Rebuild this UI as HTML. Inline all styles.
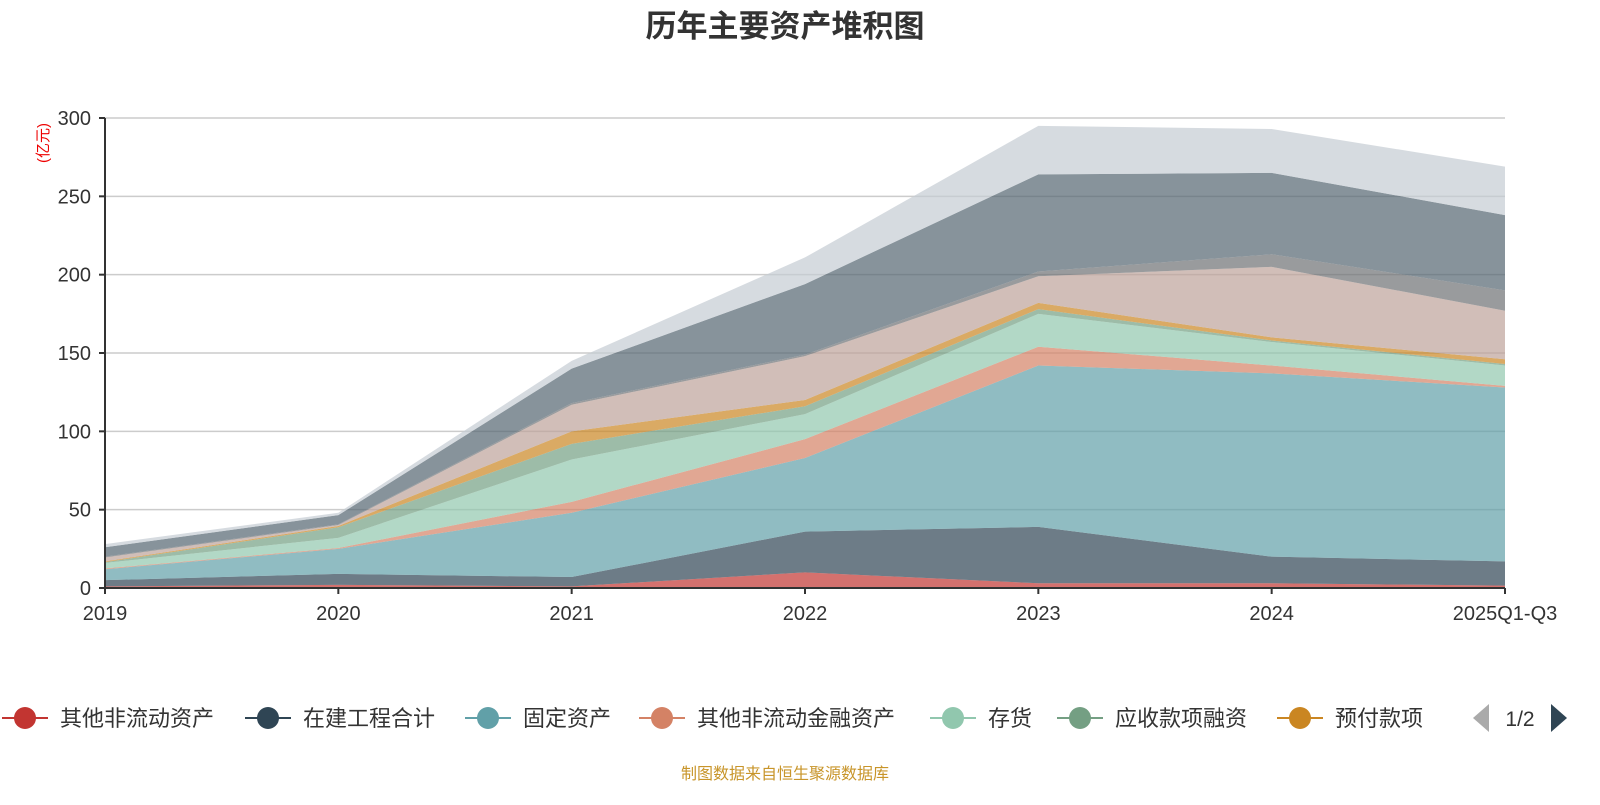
<!DOCTYPE html>
<html><head><meta charset="utf-8"><style>
body{margin:0;background:#fff;}
svg text{font-family:"Liberation Sans","Noto Sans CJK SC",sans-serif;}
</style></head><body>
<svg id="c" width="1600" height="800" xmlns="http://www.w3.org/2000/svg">
<text x="785" y="37" text-anchor="middle" font-size="31" font-weight="bold" fill="#333">历年主要资产堆积图</text>
<text transform="translate(48,143) rotate(-90)" text-anchor="middle" font-size="15" fill="#e00">(亿元)</text>
<g id="grid"></g><g id="areas"></g><g id="axes"></g><g id="legend"></g>
<text x="785" y="779" text-anchor="middle" font-size="16" fill="#c8952a">制图数据来自恒生聚源数据库</text>
</svg>
<script>
const categories=["2019","2020","2021","2022","2023","2024","2025Q1-Q3"];
const yTicks=[0,50,100,150,200,250,300];
const seriesNames=["其他非流动资产","在建工程合计","固定资产","其他非流动金融资产","存货","应收款项融资","预付款项","应收账款","交易性金融资产","货币资金","无形资产"];
const seriesColors=["#c23531","#2f4554","#61a0a8","#d48265","#91c7ae","#749f83","#ca8622","#bda29a","#6e7074","#546570","#c4ccd3"];
const sRed=[1,2,1,10,3,3,1.5];
const sDark=[4,7,6,26,36,17,15.5];
const sTeal=[7,16,41,47,103,117,111];
const sSalmon=[0.5,0.5,7,12,12,5,1];
const sLightGreen=[3.5,6.5,27,16,21,15,13];
const sGreen=[0.5,6.8,10,5,3,1,1];
const sOrange=[0.5,0.8,8,4,4,2,3];
const sPink=[2.5,0.6,17,28,17,45,31];
const sGray=[0.5,0.4,1,1,3,8,13];
const sDarkGray=[6,5.9,22,45,62,52,48];
const sLightGray=[2,1.5,5,17,31,28,31];
const allSeries=[sRed,sDark,sTeal,sSalmon,sLightGreen,sGreen,sOrange,sPink,sGray,sDarkGray,sLightGray];

const NS="http://www.w3.org/2000/svg";
const X0=105,X1=1505,Y0=588,Y1=118,YMAX=300;
const xs=i=>X0+i*(X1-X0)/(categories.length-1);
const ys=v=>Y0-v*(Y0-Y1)/YMAX;
function mk(tag,attrs,parent){const e=document.createElementNS(NS,tag);for(const k in attrs)e.setAttribute(k,attrs[k]);parent.appendChild(e);return e;}
const grid=document.getElementById('grid'),areas=document.getElementById('areas'),axes=document.getElementById('axes'),legend=document.getElementById('legend');

yTicks.forEach(t=>{
  if(t>0){const l=mk('line',{x1:X0,x2:X1,y1:ys(t),y2:ys(t),stroke:'#ccc','stroke-width':1.5},grid);
  
  }
  const tk=mk('line',{x1:X0-6,x2:X0,y1:ys(t),y2:ys(t),stroke:'#333','stroke-width':2},axes);
  
  
  const tx=mk('text',{x:X0-14,y:ys(t)+7,'text-anchor':'end','font-size':20,fill:'#333'},axes);
  tx.textContent=t;
  
  
});
let base=categories.map(()=>0);
allSeries.forEach((s,si)=>{
  const top=base.map((b,i)=>b+s[i]);
  let d='M'+categories.map((c,i)=>xs(i)+','+ys(top[i])).join(' L');
  for(let i=categories.length-1;i>=0;i--)d+=' L'+xs(i)+','+ys(base[i]);
  const p=mk('path',{d:d+'Z',fill:seriesColors[si],'fill-opacity':0.7},areas);
  
  
  base=top;
});
const ax=mk('line',{x1:X0,x2:X0,y1:Y1,y2:Y0,stroke:'#333','stroke-width':2},axes);


const xa=mk('line',{x1:X0,x2:X1,y1:Y0,y2:Y0,stroke:'#333','stroke-width':2},axes);


categories.forEach((c,i)=>{
  const tk=mk('line',{x1:xs(i),x2:xs(i),y1:Y0,y2:Y0+6,stroke:'#333','stroke-width':2},axes);
  
  
  const t=mk('text',{x:xs(i),y:Y0+32,'text-anchor':'middle','font-size':20,fill:'#333'},axes);
  t.textContent=c;
  
  
});
const legX=[25,268,488,662,953,1080,1300];
legX.forEach((cx,i)=>{
  const g=mk('g',{},legend);
  
  
  mk('line',{x1:cx-23,x2:cx+23,y1:718,y2:718,stroke:seriesColors[i],'stroke-width':2},g);
  mk('circle',{cx:cx,cy:718,r:11,fill:seriesColors[i]},g);
  const t=mk('text',{x:cx+35,y:726,'font-size':22,fill:'#333'},g);
  t.textContent=seriesNames[i];
});
const prev=mk('path',{d:'M1473,718 L1489,704 L1489,732Z',fill:'#aaa'},legend);


const pg=mk('text',{x:1520,y:726,'text-anchor':'middle','font-size':21,fill:'#333'},legend);
pg.textContent='1/2';


const nxt=mk('path',{d:'M1567,718 L1551,704 L1551,732Z',fill:'#2f4554'},legend);


</script>
</body></html>
